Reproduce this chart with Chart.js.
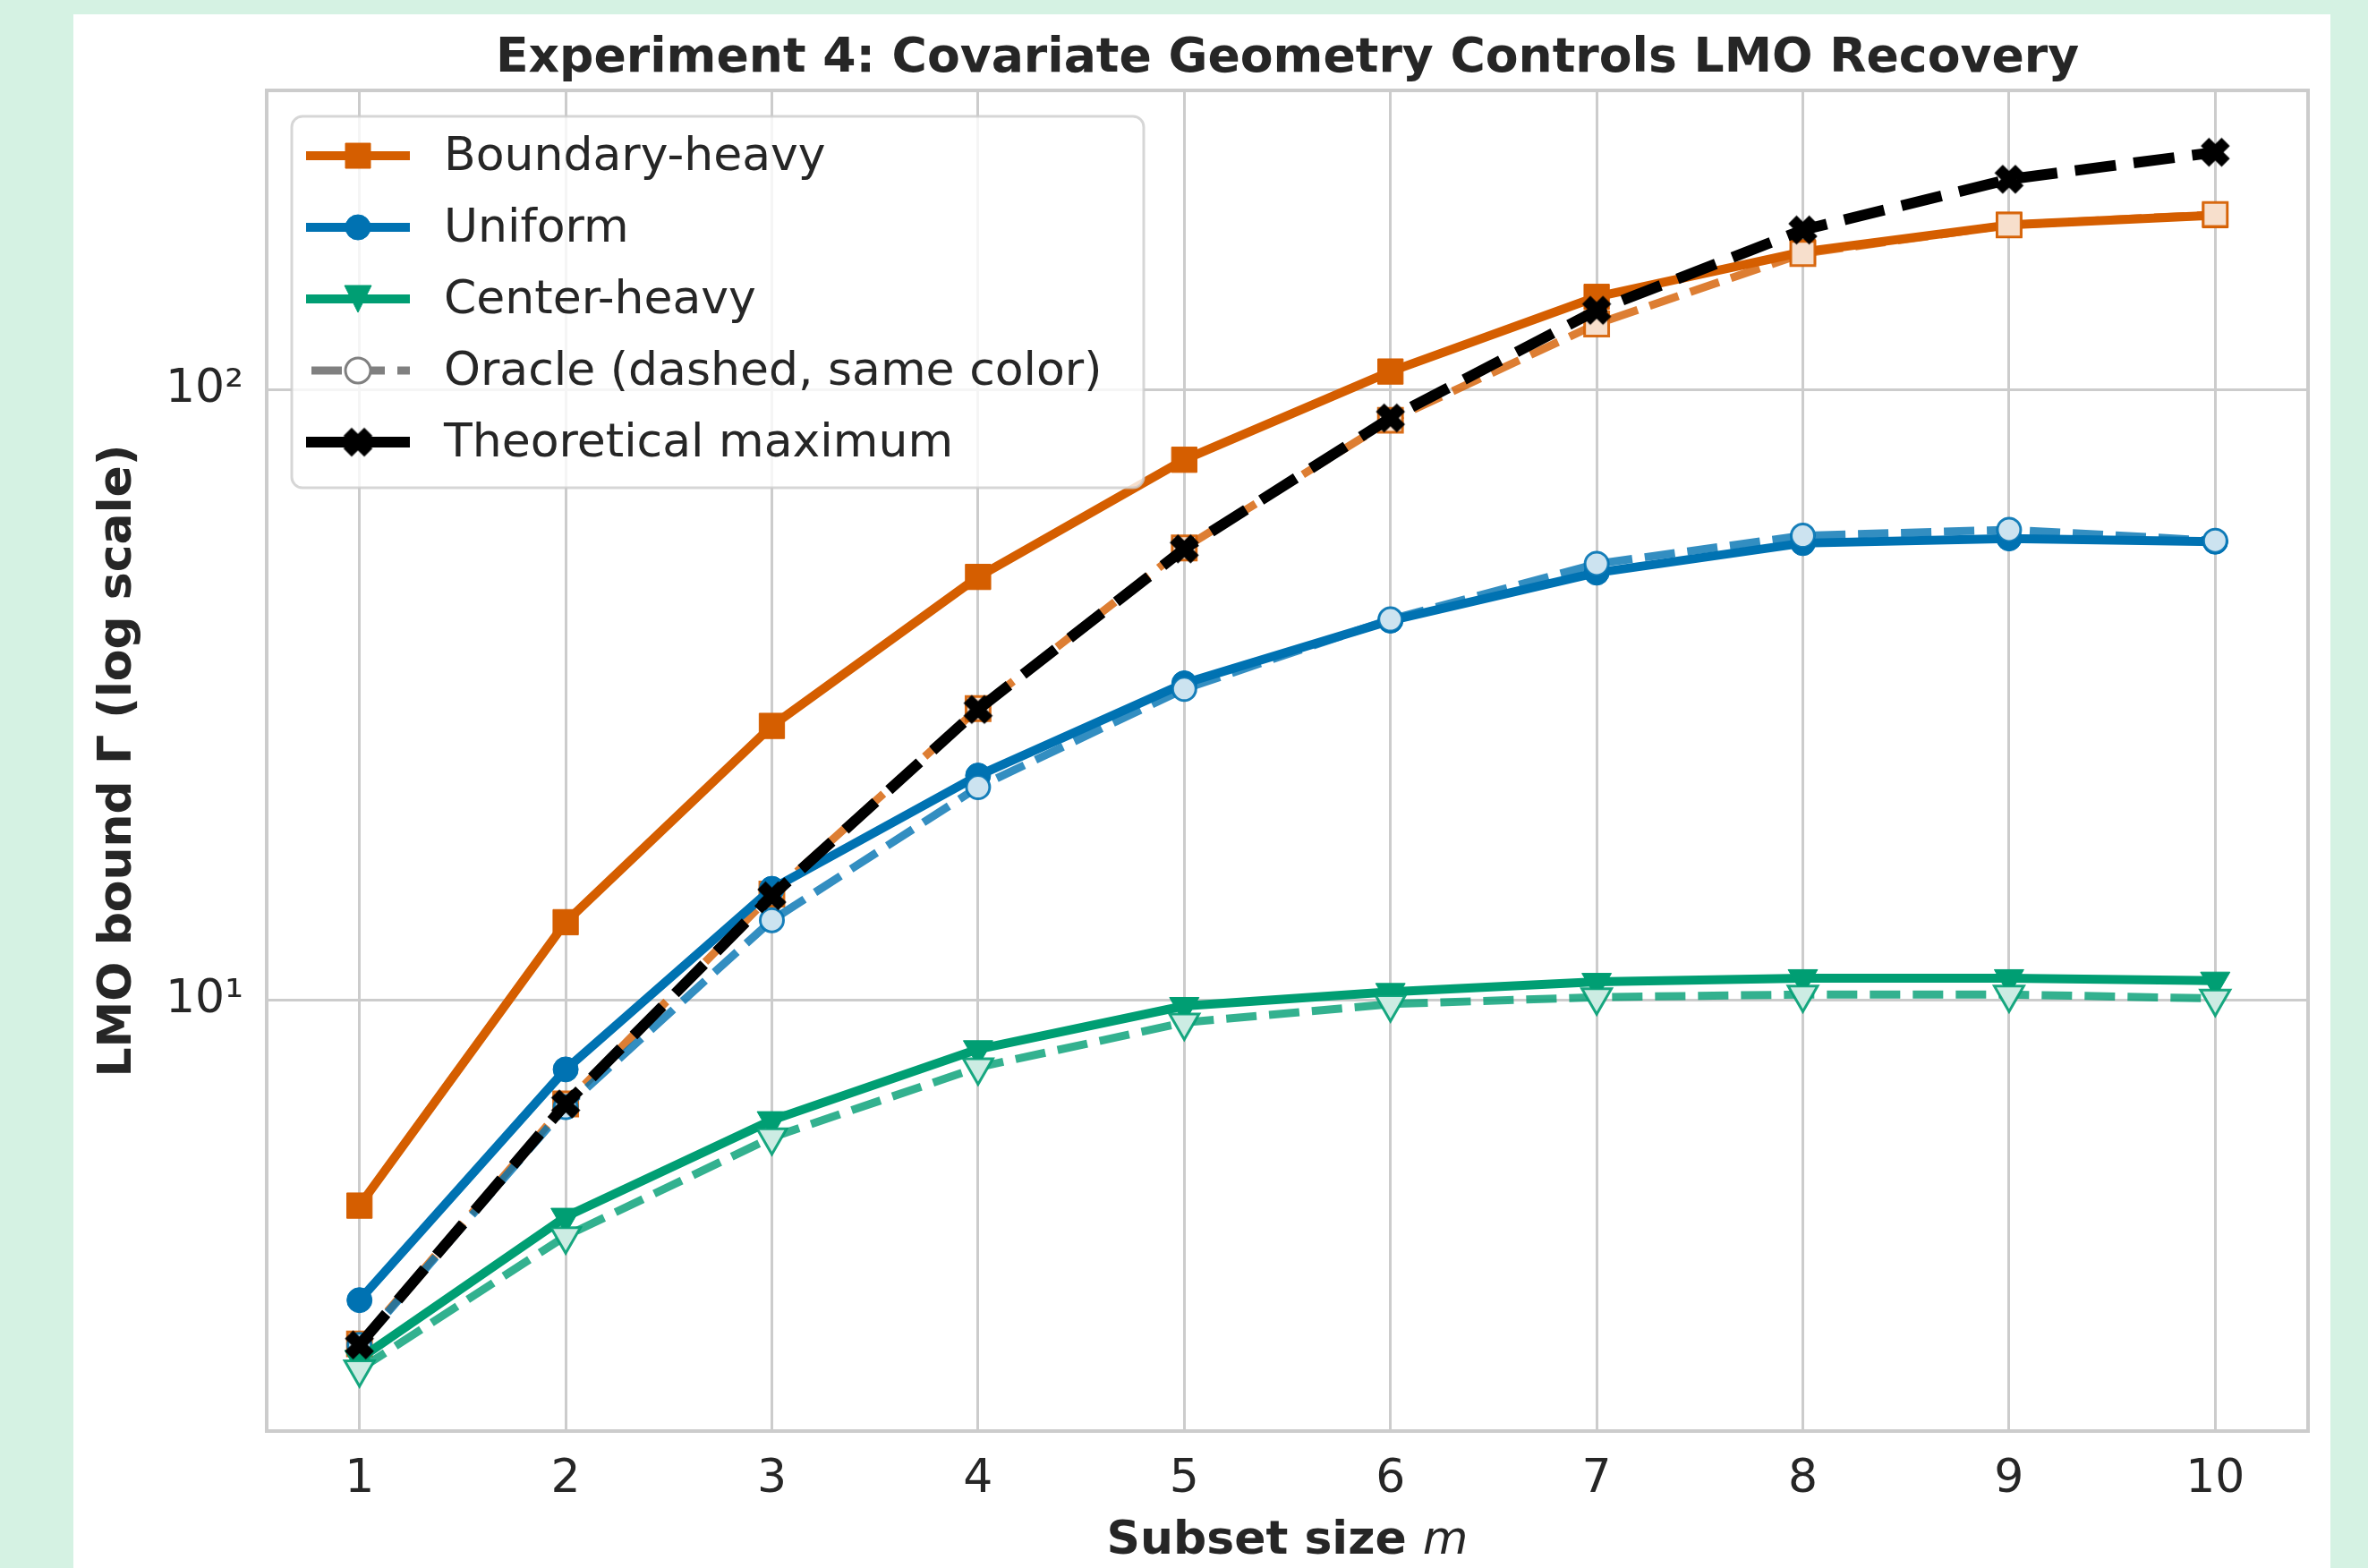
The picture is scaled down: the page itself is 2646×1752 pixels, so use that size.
<!DOCTYPE html>
<html>
<head>
<meta charset="utf-8">
<script src="https://cdn.jsdelivr.net/npm/chart.js@4.4.1/dist/chart.umd.min.js"></script>
<style>
  html, body { margin: 0; padding: 0; background: #d5f2e3; }
  #wrap { width: 2646px; height: 1752px; }
</style>
</head>
<body>
<div id="wrap"><canvas id="lmo" width="2646" height="1752"></canvas></div>
<script>
// values (log-scale y)
const subsetSizes = [1, 2, 3, 4, 5, 6, 7, 8, 9, 10];
const boundaryHeavy = [4.60, 13.4, 28.1, 49.3, 76.7, 107, 141.8, 168, 186, 193];
const boundaryOracle = [2.73, 6.75, 14.9, 30.0, 55.0, 89.0, 128, 167, 186, 193.5];
const uniform = [3.22, 7.69, 15.2, 23.3, 33.0, 41.8, 50.1, 56.0, 57.0, 56.3];
const uniformOracle = [2.72, 6.67, 13.5, 22.3, 32.3, 42.0, 51.8, 57.6, 58.9, 56.5];
const centerHeavy = [2.58, 4.41, 6.35, 8.3, 9.77, 10.3, 10.7, 10.85, 10.85, 10.75];
const centerOracle = [2.48, 4.1, 5.95, 7.75, 9.18, 9.84, 10.1, 10.2, 10.2, 10.05];
const theoreticalMax = [2.72, 6.75, 14.8, 29.9, 54.8, 89.8, 134.8, 182.5, 221, 244.7];

const yTickValues = [10, 100];
const yTickLabels = ['10¹', '10²'];
const legendLabels = ['Boundary-heavy', 'Uniform', 'Center-heavy', 'Oracle (dashed, same color)', 'Theoretical maximum'];
const chartTitle = 'Experiment 4: Covariate Geometry Controls LMO Recovery';
const yAxisLabel = 'LMO bound Γ (log scale)';
const xAxisLabel = 'Subset size ';
const xAxisVar = 'm';

const ORANGE = '#d55e00';
const BLUE = '#0072b2';
const GREEN = '#009e73';
const TEXT = '#262626';
const FONT = "'DejaVu Sans', sans-serif";

function rgba(hex, a) {
  const n = parseInt(hex.slice(1), 16);
  return `rgba(${n >> 16}, ${(n >> 8) & 255}, ${n & 255}, ${a})`;
}
// light opaque face for the oracle markers
function light(hex, a) {
  const n = parseInt(hex.slice(1), 16);
  const mix = c => Math.round(c * a + 255 * (1 - a));
  return `rgb(${mix(n >> 16)}, ${mix((n >> 8) & 255)}, ${mix(n & 255)})`;
}
function toPoints(values) {
  return subsetSizes.map((m, i) => ({x: m, y: values[i]}));
}

// filled "X" marker like matplotlib's
function makeXMarker(size, color) {
  const c = document.createElement('canvas');
  const d = Math.ceil(size * 1.3) + 6;
  c.width = d; c.height = d;
  const g = c.getContext('2d');
  g.translate(d / 2, d / 2);
  g.rotate(Math.PI / 4);
  const u = size / 6;
  const pts = [[-1,-3],[-1,-1],[-3,-1],[-3,1],[-1,1],[-1,3],[1,3],[1,1],[3,1],[3,-1],[1,-1],[1,-3]];
  g.beginPath();
  pts.forEach(([px, py], i) => i ? g.lineTo(px * u, py * u) : g.moveTo(px * u, py * u));
  g.closePath();
  g.fillStyle = color;
  g.fill();
  g.lineWidth = 3;
  g.strokeStyle = color;
  g.stroke();
  return c;
}
const xMarker = makeXMarker(30, '#000000');

const pageBackground = {
  id: 'pageBackground',
  beforeDraw(chart) {
    const ctx = chart.ctx;
    ctx.save();
    ctx.fillStyle = '#d5f2e3';
    ctx.fillRect(0, 0, chart.width, chart.height);
    ctx.fillStyle = '#ffffff';
    ctx.fillRect(82, 16, 2522, chart.height - 16);
    ctx.restore();
  }
};

const axesFrame = {
  id: 'axesFrame',
  beforeDatasetsDraw(chart) {
    const {ctx, chartArea: a} = chart;
    ctx.save();
    ctx.strokeStyle = '#cccccc';
    ctx.lineWidth = 4;
    ctx.strokeRect(a.left, a.top, a.right - a.left, a.bottom - a.top);
    ctx.restore();
  }
};

const xTitle = {
  id: 'xTitle',
  afterDraw(chart) {
    const {ctx, chartArea: a} = chart;
    ctx.save();
    ctx.fillStyle = TEXT;
    ctx.textBaseline = 'middle';
    ctx.textAlign = 'left';
    const boldFont = `bold 52px ${FONT}`;
    const itFont = `italic 52px ${FONT}`;
    ctx.font = boldFont;
    const w1 = ctx.measureText(xAxisLabel).width;
    ctx.font = itFont;
    const w2 = ctx.measureText(xAxisVar).width;
    const x0 = (a.left + a.right) / 2 - (w1 + w2) / 2;
    const y = 1722;
    ctx.font = boldFont;
    ctx.fillText(xAxisLabel, x0, y);
    ctx.font = itFont;
    ctx.fillText(xAxisVar, x0 + w1, y);
    ctx.restore();
  }
};

function drawMarker(ctx, kind, x, y, face, edge, edgeWidth) {
  ctx.save();
  ctx.fillStyle = face;
  ctx.strokeStyle = edge;
  ctx.lineWidth = edgeWidth;
  ctx.setLineDash([]);
  ctx.beginPath();
  if (kind === 'rect') {
    ctx.rect(x - 14, y - 14, 28, 28);
  } else if (kind === 'circle') {
    ctx.arc(x, y, 14, 0, Math.PI * 2);
  } else if (kind === 'tri') {
    ctx.moveTo(x - 15, y - 15);
    ctx.lineTo(x + 15, y - 15);
    ctx.lineTo(x, y + 15);
    ctx.closePath();
  } else if (kind === 'x') {
    ctx.drawImage(xMarker, x - xMarker.width / 2, y - xMarker.height / 2);
    ctx.restore();
    return;
  }
  ctx.fill();
  if (edgeWidth > 0) ctx.stroke();
  ctx.restore();
}

const legendBox = {
  id: 'legendBox',
  afterDatasetsDraw(chart) {
    const {ctx, chartArea: a} = chart;
    const x0 = a.left + 28, y0 = a.top + 29, w = 952, h = 415, r = 12;
    ctx.save();
    ctx.beginPath();
    ctx.moveTo(x0 + r, y0);
    ctx.arcTo(x0 + w, y0, x0 + w, y0 + h, r);
    ctx.arcTo(x0 + w, y0 + h, x0, y0 + h, r);
    ctx.arcTo(x0, y0 + h, x0, y0, r);
    ctx.arcTo(x0, y0, x0 + w, y0, r);
    ctx.closePath();
    ctx.fillStyle = 'rgba(255, 255, 255, 0.8)';
    ctx.fill();
    ctx.strokeStyle = 'rgba(204, 204, 204, 0.8)';
    ctx.lineWidth = 3;
    ctx.stroke();

    const handles = [
      {color: ORANGE, width: 10, dash: [], marker: 'rect', face: ORANGE, edge: ORANGE},
      {color: BLUE, width: 10, dash: [], marker: 'circle', face: BLUE, edge: BLUE},
      {color: GREEN, width: 10, dash: [], marker: 'tri', face: GREEN, edge: GREEN},
      {color: '#808080', width: 9, dash: [34, 14], marker: 'circle', face: '#ffffff', edge: '#808080'},
      {color: '#000000', width: 12, dash: [], marker: 'x', face: '#000000', edge: '#000000'}
    ];
    handles.forEach((hd, i) => {
      const cy = y0 + 44 + i * 80;
      ctx.save();
      ctx.strokeStyle = hd.color;
      ctx.lineWidth = hd.width;
      ctx.setLineDash(hd.dash);
      ctx.lineDashOffset = -6;
      ctx.beginPath();
      ctx.moveTo(x0 + 16, cy);
      ctx.lineTo(x0 + 132, cy);
      ctx.stroke();
      ctx.restore();
      drawMarker(ctx, hd.marker, x0 + 74, cy, hd.face, hd.edge, hd.marker === 'circle' && i === 3 ? 3 : 1);
      ctx.save();
      ctx.fillStyle = TEXT;
      ctx.font = `52px ${FONT}`;
      ctx.textBaseline = 'middle';
      ctx.fillText(legendLabels[i], x0 + 170, cy + 2);
      ctx.restore();
    });
    ctx.restore();
  }
};

const solid = (label, values, color, style, radius, rotation, order) => ({
  label, data: toPoints(values), order,
  borderColor: color, borderWidth: 10, borderJoinStyle: 'round', borderCapStyle: 'round',
  pointStyle: style, pointRadius: radius, pointRotation: rotation,
  pointBackgroundColor: color, pointBorderColor: color, pointBorderWidth: 1
});
const oracle = (label, values, color, style, radius, rotation, order) => ({
  label, data: toPoints(values), order,
  borderColor: rgba(color, 0.8), borderWidth: 9, borderDash: [34, 14], borderJoinStyle: 'round',
  pointStyle: style, pointRadius: radius, pointRotation: rotation,
  pointBackgroundColor: light(color, 0.2), pointBorderColor: rgba(color, 0.9), pointBorderWidth: 3
});

new Chart('lmo', {
  type: 'line',
  data: {
    datasets: [
      solid('Boundary-heavy', boundaryHeavy, ORANGE, 'rect', 20, 0, 7),
      oracle('Boundary-heavy (oracle)', boundaryOracle, ORANGE, 'rect', 19, 0, 6),
      solid('Uniform', uniform, BLUE, 'circle', 14, 0, 5),
      oracle('Uniform (oracle)', uniformOracle, BLUE, 'circle', 13, 0, 4),
      solid('Center-heavy', centerHeavy, GREEN, 'triangle', 19, 180, 3),
      oracle('Center-heavy (oracle)', centerOracle, GREEN, 'triangle', 19, 180, 2),
      {
        label: 'Theoretical maximum', data: toPoints(theoreticalMax), order: 1,
        borderColor: '#000000', borderWidth: 12, borderDash: [46, 20], borderJoinStyle: 'round',
        pointStyle: xMarker, pointRadius: 16,
        pointBackgroundColor: '#000000', pointBorderColor: '#000000'
      }
    ]
  },
  options: {
    responsive: false,
    animation: false,
    devicePixelRatio: 1,
    layout: {padding: {left: 0, right: 67, top: 0, bottom: 0}},
    plugins: {
      legend: {display: false},
      tooltip: {enabled: false},
      title: {
        display: true,
        text: chartTitle,
        fullSize: false,
        color: TEXT,
        font: {family: FONT, size: 53.6, weight: 'bold'},
        padding: {top: 34, bottom: 2.7}
      }
    },
    scales: {
      x: {
        type: 'linear',
        min: 0.55,
        max: 10.45,
        afterBuildTicks: s => { s.ticks = subsetSizes.map(v => ({value: v})); },
        afterFit: s => { s.height = 153; },
        grid: {color: '#cccccc', lineWidth: 3, drawTicks: false},
        border: {display: false},
        ticks: {color: TEXT, font: {family: FONT, size: 52}, padding: 23, maxRotation: 0,
                callback: v => String(v)}
      },
      y: {
        type: 'logarithmic',
        min: 1.965,
        max: 309,
        afterBuildTicks: s => { s.ticks = yTickValues.map(v => ({value: v})); },
        afterFit: s => { s.width = 298; },
        grid: {color: '#cccccc', lineWidth: 3, drawTicks: false},
        border: {display: false},
        ticks: {color: TEXT, font: {family: FONT, size: 52}, padding: 26,
                callback: v => yTickLabels[yTickValues.indexOf(v)]},
        title: {display: true, text: yAxisLabel, color: TEXT,
                font: {family: FONT, size: 52, weight: 'bold'}, padding: {top: 101, bottom: 0}}
      }
    }
  },
  plugins: [pageBackground, axesFrame, legendBox, xTitle]
});
</script>
</body>
</html>
